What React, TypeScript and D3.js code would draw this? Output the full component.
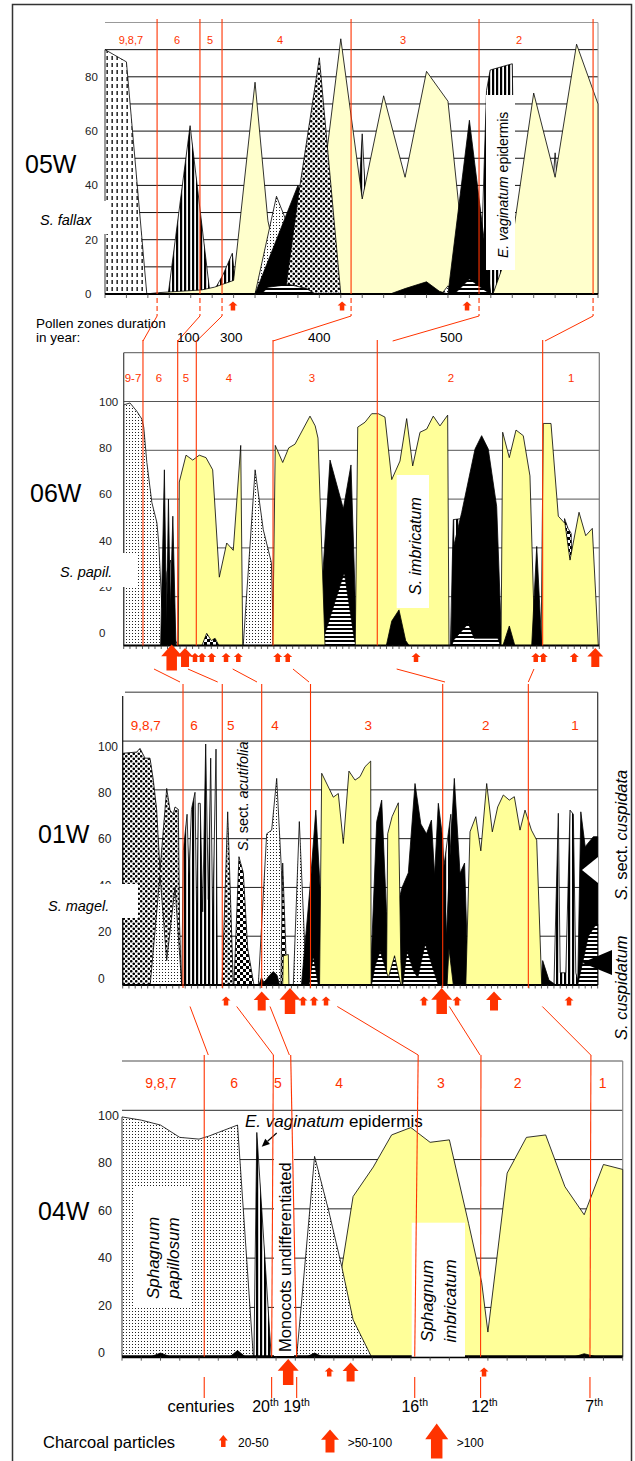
import React from "react";
import * as d3 from "d3";

type Pt = [number, number];
type Arw = [number, string];

// ================= 05W (depth index 0..23) =================
const w05Bounds = [2.43, 4.43, 5.46, 11.48, 17.45, 22.77];
const w05Zones = ["9,8,7", "6", "5", "4", "3", "2"];
const w05ZoneAt = [1.21, 3.36, 4.9, 8.17, 13.9, 19.32];
const w05Ticks = [0, 20, 40, 60, 80];
const w05Charcoal: Arw[] = [[5.97, "S"], [11.06, "S"], [16.89, "S"]];
const w05Fallax: Pt[] = [[0, 90], [1, 85.5], [1.95, 0]];
const w05VStripe: Pt[] = [[2.95, 0], [3.97, 62], [4.9, 0], [5.0, 0], [5.5, 7], [5.94, 15], [6.08, 3], [6.3, 0], [11.6, 0], [12, 59], [12.4, 0], [17.5, 0], [17.8, 75], [17.97, 82.5], [19.0, 84.8], [19.15, 5], [19.4, 0], [20.5, 0], [21, 52], [21.5, 0]];
const w05Yellow: Pt[] = [[1.9, 0], [2.5, 0.5], [3.5, 1], [4.5, 1.5], [5.1, 2.5], [6.0, 5], [7.0, 78], [7.6, 27], [8.2, 5], [8.6, 0], [9.6, 0], [10, 30], [11, 94], [12, 35], [13, 73], [14, 43], [15, 82], [16, 71], [16.8, 10], [17.2, 0], [18.1, 0], [19, 20], [20, 74], [21, 43], [22, 92], [23, 70]];
const w05Light: Pt[] = [[7, 0], [8, 36], [8.6, 24], [9.2, 15], [9.6, 0], [15.7, 0], [16, 3], [16.3, 0]];
const w05Black: Pt[] = [[7, 0], [8, 20], [9, 40], [9.6, 28], [10, 10], [10.6, 0], [13.3, 0], [14, 2], [15, 4.5], [15.6, 1], [16, 0], [17, 64], [18, 0]];
const w05Coarse: Pt[] = [[8.4, 0], [9, 35], [10, 87], [11, 0]];
const w05HStripe: Pt[] = [[7.3, 0], [7.6, 2.5], [8.6, 3.5], [9.4, 2], [9.8, 0], [16.3, 0], [17, 5.5], [17.7, 1.5], [18, 0]];

// connectors 05W -> 06W  [depth in 05W, depth in 06W]
const link0506: Pt[] = [[2.43, 3.08], [4.43, 8.63], [5.46, 11.66], [11.48, 23.86], [17.45, 41.75], [22.77, 67.32]];
const durations = ["100", "300", "400", "500"];

// ================= 06W (depth 0..76) =================
const w06Bounds = [3.08, 8.63, 11.6, 23.86, 40.52, 66.95];
const w06Zones = ["9-7", "6", "5", "4", "3", "2", "1"];
const w06ZoneAt = [1.49, 5.64, 9.96, 16.83, 30.09, 52.3, 71.5];
const w06Ticks = [0, 20, 40, 60, 80, 100];
const w06Charcoal: Arw[] = [[7.67, "L"], [9.8, "M"], [11.39, "S"], [12.51, "S"], [14.06, "S"], [16.35, "S"], [18.31, "S"], [24.61, "S"], [26.21, "S"], [46.71, "S"], [65.84, "S"], [67.05, "S"], [72.0, "S"], [75.36, "M"]];
const w06Papil: Pt[] = [[0, 98.6], [1, 99.4], [2.1, 96], [2.9, 92.8], [3.2, 89.5], [3.7, 75], [4.5, 58.6], [5.3, 50.4], [5.6, 42], [6.1, 16], [6.9, 9], [7.9, 3.6], [8.7, 0], [19.1, 0], [21, 72], [22.3, 47.5], [23.6, 34], [23.9, 5], [24.2, 0]];
const w06VStripe: Pt[] = [[6.5, 0], [6.9, 30], [7.5, 35], [8.1, 0], [52.2, 0], [52.67, 51.6], [54.0, 52], [54.6, 0]];
const w06BlackA: Pt[] = [[5.9, 0], [6.5, 72], [6.85, 8], [7.15, 60], [7.45, 15], [7.85, 53], [8.35, 0], [31.1, 0], [32.97, 76], [35.1, 56], [36.32, 74], [37.23, 0], [52.3, 0], [52.67, 40], [54.01, 54.5], [56.14, 80.5], [57.2, 86], [58.26, 80.5], [59.6, 57], [60.4, 0]];
const w06HStripe: Pt[] = [[31.4, 0], [31.8, 2], [35.25, 30], [36.9, 2], [37.2, 0], [52.4, 0], [52.8, 2.5], [55.07, 9], [56, 3], [59.8, 3], [60.2, 0]];
const w06Checker: Pt[] = [[70.1, 0], [70.45, 52], [71.0, 48], [71.5, 46], [71.9, 0]];
const w06Yellow: Pt[] = [[8.72, 0], [8.88, 67], [9.96, 78], [11.03, 76], [12.08, 78], [13.15, 77], [14.22, 72], [15.28, 28], [16.46, 42], [17.51, 39], [18.7, 82], [19.02, 0], [23.81, 0], [24.22, 82], [25.41, 75], [26.37, 81], [27.37, 82.5], [29.77, 94], [30.6, 90], [31.05, 85], [32.17, 0], [37.0, 0], [37.4, 89.5], [38.56, 91.5], [39.63, 95], [40.68, 95], [41.75, 93.6], [42.83, 68], [44.15, 75.6], [45.22, 93], [46.18, 73.6], [47.35, 87.4], [48.42, 88.7], [49.47, 94], [50.54, 90], [51.77, 94.4], [51.98, 0], [60.3, 0], [60.56, 87.4], [61.62, 77], [62.69, 88.3], [63.85, 86], [64.92, 69.5], [65.7, 0], [66.7, 0], [67.05, 91], [68.28, 91], [69.45, 53], [70.52, 50], [71.32, 35], [72.76, 54.6], [73.83, 45], [74.88, 48], [75.84, 0]];
const w06BlackB: Pt[] = [[41.97, 0], [42.83, 10], [43.99, 14.6], [45.06, 2], [45.6, 0], [60.6, 0], [61.62, 8], [62.5, 0], [65.2, 0], [66, 40.6], [66.8, 0]];
const w06CheckerSmall: Pt[] = [[12.5, 0], [13.26, 5], [14, 2], [14.6, 3], [15.2, 0]];

const link0601: Pt[] = [[4.84, 9.17], [10.27, 15.2], [17.42, 21.49], [27.05, 29.81], [43.62, 51.57], [65.56, 64.9]];

// ================= 01W (depth 0..76) =================
const w01Bounds = [9.65, 15.93, 22.24, 30.05, 51.2, 64.9];
const w01Zones = ["9,8,7", "6", "5", "4", "3", "2", "1"];
const w01ZoneAt = [3.7, 11.41, 17.28, 24.37, 39.3, 58.08, 72.37];
const w01Ticks = [0, 20, 40, 60, 80, 100];
const w01Charcoal: Arw[] = [[16.53, "S"], [22.24, "M"], [26.77, "L"], [28.85, "S"], [30.61, "S"], [32.53, "S"], [48.21, "S"], [51.04, "L"], [53.49, "S"], [59.41, "M"], [71.41, "S"]];
const w01Magel: Pt[] = [[0, 95], [2.24, 95.5], [2.77, 97], [3.57, 93], [4.37, 93], [4.9, 84], [5.44, 71.7], [5.97, 47], [7.04, 80.6], [7.57, 71.7], [8.1, 70], [8.37, 73], [8.9, 72], [9.1, 25], [9.4, 0], [15.9, 0], [16.8, 71], [17.7, 0]];
const w01Light: Pt[] = [[4.4, 0], [5.97, 45], [7.04, 10], [8.37, 40], [9.44, 0], [11.4, 0], [12.1, 12], [12.7, 0], [13.9, 0], [14.5, 10], [15.0, 0], [21.7, 0], [23.04, 62], [23.84, 63.5], [24.64, 84.7], [25.4, 47], [25.8, 0], [27.3, 0], [28.26, 67], [29.4, 0]];
const w01VStripe: Pt[] = [[9.45, 0], [9.7, 55], [10.3, 70], [10.6, 45], [11.0, 72], [11.57, 79], [11.85, 25], [12.1, 74.5], [12.4, 74.5], [12.8, 30], [13.28, 98.8], [13.7, 35], [14.08, 93], [14.4, 25], [14.93, 96.7], [15.15, 0], [50.4, 0], [51.2, 45], [52.5, 70], [53.5, 0], [69.0, 0], [69.7, 70.4], [70.0, 5], [70.9, 5], [71.57, 71.7], [72.1, 70], [72.5, 5], [73.0, 0]];
const w01Checker: Pt[] = [[17.8, 0], [18.6, 52.6], [19.3, 46], [20.0, 15], [21.0, 0], [25.3, 0], [25.6, 50], [26.3, 0]];
const w01Black: Pt[] = [[21.8, 0], [22.2, 3], [22.6, 1], [23.5, 4], [24.1, 5.5], [24.7, 4], [25.1, 0], [28.6, 0], [29.97, 40], [30.9, 71.7], [31.8, 30], [32.2, 0], [39.6, 0], [40.64, 67], [41.44, 75.8], [42.2, 30], [42.5, 10], [43.5, 20], [44.2, 35], [44.7, 40], [45.7, 46], [46.77, 82.6], [47.7, 66], [48.6, 62], [49.4, 67.6], [49.9, 45], [50.5, 74.5], [51.2, 60], [51.8, 20], [52.3, 50], [53.06, 84.7], [53.97, 45.8], [54.7, 50], [55.3, 0], [66.9, 0], [67.2, 10], [68.2, 2], [69.3, 0], [72.8, 0], [73.3, 71], [74, 56.7], [75.3, 60.8], [76, 60.8]];
const w01Yellow: Pt[] = [[25.6, 0], [25.7, 12], [26.5, 12.5], [26.6, 0], [31.5, 0], [31.84, 86.8], [33.7, 77], [34.5, 78.5], [35.3, 58], [36.2, 87.7], [37.17, 84], [37.97, 85.4], [38.77, 89.5], [39.68, 91.8], [39.75, 0], [42.2, 0], [42.4, 62], [43.1, 69], [44.1, 74.7], [44.5, 10], [44.7, 0], [51.9, 0], [52.2, 15], [52.9, 0], [54.9, 0], [55.57, 62.8], [56.5, 69], [57.3, 55], [58.24, 82.6], [59.14, 62.8], [60, 73], [60.9, 77.9], [61.86, 75.8], [62.66, 77.2], [63.57, 63.5], [64.37, 71.7], [65.4, 63.5], [66.24, 59.4], [67.04, 0]];
const w01HStripe: Pt[] = [[29.8, 0], [30.5, 12], [31.3, 0], [39.8, 0], [40.4, 8], [41.2, 14], [42.5, 3], [43.5, 12], [44.5, 0], [44.8, 0], [45.5, 14], [46.5, 6], [47.2, 3], [48.4, 17], [49.5, 8], [50.5, 0], [72.8, 0], [74.5, 20], [75.5, 24], [76, 25]];

const link0104: Pt[] = [[10.77, 4.48], [18.24, 7.86], [23.57, 8.69], [34.34, 15.38], [52.26, 18.59], [67.14, 24.34]];

// ================= 04W (depth 0..26) =================
const w04BoundsTop = [4.27, 7.86, 8.76, 15.38, 18.64, 24.35];
const w04BoundsBot = [4.27, 7.77, 9.07, 15.2, 18.62, 24.3];
const w04Zones = ["9,8,7", "6", "5", "4", "3", "2", "1"];
const w04ZoneAt = [2.02, 5.82, 8.1, 11.27, 16.56, 20.55, 24.96];
const w04Ticks = [0, 20, 40, 60, 80, 100];
const w04Charcoal: Arw[] = [[8.63, "L"], [10.76, "S"], [11.87, "M"], [18.8, "S"]];
const w04Centuries = ["20", "19", "16", "12", "7"];
const w04CenturyAt = [7.45, 9.06, 15.2, 18.82, 24.52];
const w04Yellow: Pt[] = [[10.3, 0], [11.41, 36], [12, 65], [13.05, 77], [14, 90], [15, 93], [16, 87], [17, 88], [18, 54], [18.68, 30], [19, 10], [20, 74.5], [21, 89], [22, 90], [23, 69], [24, 57.6], [25, 78], [26, 76]];
const w04Papil: Pt[] = [[0, 97.3], [1, 96], [2, 94], [3, 89], [4, 88.3], [4.5, 89.5], [5, 91], [6, 94], [6.82, 0], [9.07, 0], [10, 81.3], [10.72, 59.6], [11.41, 36.6], [12, 15], [12.95, 0]];
const w04Vag: Pt[] = [[6.85, 0], [7.0, 91], [7.75, 0]];
const w04Black: Pt[] = [[1.5, 0], [2, 1.5], [2.5, 0], [5.6, 0], [6, 2.5], [6.4, 0], [9.6, 0], [10, 1.5], [10.4, 0], [23.5, 0], [24, 1.2], [24.6, 0]];

const legendSizes = ["S", "M", "L"];
const legendText = ["20-50", ">50-100", ">100"];

// ============================================================
const FONT = "'Liberation Sans', Arial, Helvetica, sans-serif";
const RED = "#ff3300";
const Y1 = "#FFFFCC";
const Y2 = "#FFFF99";

type Geo = { left: number; right: number; top: number; base: number; vmax: number; dmax: number };

function mk(g: Geo) {
  const x = d3.scaleLinear().domain([0, g.dmax]).range([g.left, g.right]);
  const y = d3.scaleLinear().domain([0, g.vmax]).range([g.base, g.top]);
  const area = d3.area<Pt>().x((d) => x(d[0])).y0(y(0)).y1((d) => y(d[1])).curve(d3.curveLinear);
  return { x, y, area };
}

function arrowPath(cx: number, cy: number, w: number, h: number) {
  const top = cy - h / 2, bot = cy + h / 2, hh = h * 0.45, sw = w * 0.5;
  return `M${cx},${top}L${cx + w / 2},${top + hh}L${cx + sw / 2},${top + hh}L${cx + sw / 2},${bot}L${cx - sw / 2},${bot}L${cx - sw / 2},${top + hh}L${cx - w / 2},${top + hh}Z`;
}
const PANEL_ARW: Record<string, [number, number]> = { S: [9, 9], M: [16, 19], L: [21, 26] };
const LEG_ARW: Record<string, [number, number]> = { S: [9, 12], M: [18, 23], L: [23, 35] };

function Series({ s, data, fill }: { s: any; data: Pt[]; fill: string }) {
  return <path d={s.area(data) || ""} fill={fill} stroke="#000" strokeWidth={0.8} strokeLinejoin="round" />;
}

function Ticks({ s, g, n, len, w }: { s: any; g: Geo; n: number; len: number; w: number }) {
  return (
    <g>
      <line x1={g.left} x2={g.right} y1={g.base} y2={g.base} stroke="#000" strokeWidth={w} />
      {d3.range(0, n + 1).map((i) => (
        <line key={i} x1={s.x(i)} x2={s.x(i)} y1={g.base} y2={g.base + len} stroke="#333" strokeWidth={0.8} />
      ))}
    </g>
  );
}

export default function App() {
  const g1: Geo = { left: 105, right: 598, top: 22.5, base: 294, vmax: 100, dmax: 23 };
  const g2: Geo = { left: 123.7, right: 599.3, top: 352.7, base: 645.5, vmax: 120, dmax: 76 };
  const g3: Geo = { left: 122.7, right: 597.7, top: 692.3, base: 985, vmax: 120, dmax: 76 };
  const g4: Geo = { left: 122, right: 622.7, top: 1061, base: 1356.7, vmax: 120, dmax: 26 };
  const s1 = mk(g1), s2 = mk(g2), s3 = mk(g3), s4 = mk(g4);

  const lbl2 = d3.scaleLinear().domain([0, 100]).range([633, 402]);
  const lbl3 = d3.scaleLinear().domain([0, 100]).range([978, 746]);
  const lbl4 = d3.scaleLinear().domain([0, 100]).range([1352.7, 1115]);

  const txt = { fontFamily: FONT } as React.CSSProperties;

  // E. vaginatum pointer (04W)
  const pa = [276.7, 1133], pb = [261.7, 1146.7];
  const dl = Math.hypot(pb[0] - pa[0], pb[1] - pa[1]);
  const ux = (pb[0] - pa[0]) / dl, uy = (pb[1] - pa[1]) / dl;
  const hb = [pb[0] - ux * 8, pb[1] - uy * 8];
  const head = `M${pb[0]},${pb[1]}L${hb[0] - uy * 3.5},${hb[1] + ux * 3.5}L${hb[0] + uy * 3.5},${hb[1] - ux * 3.5}Z`;

  const arrows = (list: Arw[], s: any, cy: number) =>
    list.map(([d, k], i) => {
      const [w, h] = PANEL_ARW[k];
      return <path key={i} d={arrowPath(s.x(d), cy, w, h)} fill={RED} />;
    });

  return (
    <svg width={635} height={1461} style={{ position: "absolute", left: 0, top: 0, background: "#fff" }} xmlns="http://www.w3.org/2000/svg">
      <defs>
        <pattern id="p-fallax" width={5} height={7} patternUnits="userSpaceOnUse">
          <rect width={5} height={7} fill="#fff" />
          <rect x={1.5} y={0} width={1.3} height={4} fill="#000" />
        </pattern>
        <pattern id="p-vs" width={4} height={4} patternUnits="userSpaceOnUse">
          <rect width={4} height={4} fill="#fff" />
          <rect x={0} y={0} width={2.2} height={4} fill="#000" />
        </pattern>
        <pattern id="p-hs" width={4} height={4} patternUnits="userSpaceOnUse">
          <rect width={4} height={4} fill="#fff" />
          <rect x={0} y={0} width={4} height={2} fill="#000" />
        </pattern>
        <pattern id="p-light" width={3} height={3} patternUnits="userSpaceOnUse">
          <rect width={3} height={3} fill="#fff" />
          <rect x={0} y={0} width={1} height={1} fill="#222" />
        </pattern>
        <pattern id="p-coarse" width={5} height={5} patternUnits="userSpaceOnUse">
          <rect width={5} height={5} fill="#fff" />
          <circle cx={1.25} cy={1.25} r={1.3} fill="#000" />
          <circle cx={3.75} cy={3.75} r={1.3} fill="#000" />
        </pattern>
        <pattern id="p-check" width={6} height={6} patternUnits="userSpaceOnUse">
          <rect width={6} height={6} fill="#fff" />
          <rect x={0} y={0} width={3} height={3} fill="#000" />
          <rect x={3} y={3} width={3} height={3} fill="#000" />
        </pattern>
      </defs>
      <rect width={635} height={1461} fill="#fff" />
      <rect x={12.5} y={4.5} width={619} height={1475} fill="none" stroke="#333" strokeWidth={1.5} />

      {/* ============ 05W ============ */}
      <g>
        {d3.range(10, 100, 10).map((v) => (
          <line key={v} x1={g1.left} x2={g1.right} y1={s1.y(v)} y2={s1.y(v)} stroke="#111" strokeWidth={1} />
        ))}
        <line x1={g1.left} x2={g1.right} y1={s1.y(100)} y2={s1.y(100)} stroke="#999" strokeWidth={1} />
        <line x1={g1.right} x2={g1.right} y1={s1.y(100)} y2={g1.base} stroke="#999" strokeWidth={1} />
        <Series s={s1} data={w05Fallax} fill="url(#p-fallax)" />
        <Series s={s1} data={w05VStripe} fill="url(#p-vs)" />
        <Series s={s1} data={w05Yellow} fill={Y1} />
        <Series s={s1} data={w05Light} fill="url(#p-light)" />
        <Series s={s1} data={w05Black} fill="#000" />
        <Series s={s1} data={w05Coarse} fill="url(#p-coarse)" />
        <Series s={s1} data={w05HStripe} fill="url(#p-hs)" />
        <Ticks s={s1} g={g1} n={23} len={4} w={2} />
        {w05Ticks.map((v) => (
          <text key={v} x={85} y={s1.y(v) + 4} fontSize={11.5} fill="#222" style={txt}>{v}</text>
        ))}
        {w05Zones.map((z, i) => (
          <text key={z} x={s1.x(w05ZoneAt[i])} y={44} fontSize={11} fill={RED} textAnchor="middle" style={txt}>{z}</text>
        ))}
        <text x={25} y={173} fontSize={25} fill="#000" style={txt}>05W</text>
        <rect x={38} y={201} width={73} height={33} fill="#fff" />
        <text x={40} y={225} fontSize={14.5} fontStyle="italic" style={txt}>S. fallax</text>
        <rect x={486} y={95} width={29} height={175} fill="#fff" />
        <text transform="translate(508,258) rotate(-90)" fontSize={14} style={txt}>
          <tspan fontStyle="italic">E. vaginatum</tspan> epidermis
        </text>
        {w05Bounds.map((d, i) => (
          <g key={i}>
            <line x1={s1.x(d)} x2={s1.x(d)} y1={19} y2={g1.base} stroke={RED} strokeWidth={1.1} />
            <line x1={s1.x(d)} x2={s1.x(d)} y1={298} y2={316} stroke={RED} strokeWidth={1.1} strokeDasharray="5,3" />
          </g>
        ))}
        {arrows(w05Charcoal, s1, 306)}
      </g>

      {/* connectors 05W -> 06W */}
      {link0506.map(([a, b], i) => (
        <line key={i} x1={s1.x(a)} y1={316} x2={s2.x(b) + (i === 4 ? 7.7 : 0)} y2={341} stroke={RED} strokeWidth={1} />
      ))}
      <text x={36} y={328} fontSize={13.5} style={txt}>Pollen zones duration</text>
      <text x={36} y={342} fontSize={13.5} style={txt}>in year:</text>
      {durations.map((t, i) => (
        <text key={t} x={[177, 220, 308, 440][i]} y={342} fontSize={13.5} style={txt}>{t}</text>
      ))}

      {/* ============ 06W ============ */}
      <g>
        {[20, 40, 60, 80, 100].map((v) => (
          <line key={v} x1={g2.left} x2={g2.right} y1={s2.y(v)} y2={s2.y(v)} stroke="#555" strokeWidth={1} />
        ))}
        <line x1={g2.left} x2={g2.right} y1={g2.top} y2={g2.top} stroke="#777" strokeWidth={1.2} />
        <line x1={g2.right} x2={g2.right} y1={g2.top} y2={g2.base} stroke="#777" strokeWidth={1.2} />
        <Series s={s2} data={w06Papil} fill="url(#p-light)" />
        <Series s={s2} data={w06VStripe} fill="url(#p-vs)" />
        <Series s={s2} data={w06BlackA} fill="#000" />
        <Series s={s2} data={w06HStripe} fill="url(#p-hs)" />
        <Series s={s2} data={w06Checker} fill="url(#p-check)" />
        <Series s={s2} data={w06Yellow} fill={Y2} />
        <Series s={s2} data={w06BlackB} fill="#000" />
        <Series s={s2} data={w06CheckerSmall} fill="url(#p-check)" />
        <line x1={g2.left} x2={g2.left} y1={g2.top} y2={g2.base} stroke="#444" strokeWidth={1.2} />
        <Ticks s={s2} g={g2} n={76} len={3.5} w={2} />
        {w06Ticks.map((v) => (
          <text key={v} x={99} y={lbl2(v) + 4} fontSize={11.5} fill="#222" style={txt}>{v}</text>
        ))}
        {w06Zones.map((z, i) => (
          <text key={z} x={s2.x(w06ZoneAt[i])} y={382} fontSize={11.5} fill={RED} textAnchor="middle" style={txt}>{z}</text>
        ))}
        <text x={30} y={502} fontSize={25} style={txt}>06W</text>
        <rect x={56} y={553} width={80} height={34} fill="#fff" />
        <text x={60} y={577} fontSize={14.5} fontStyle="italic" style={txt}>S. papil.</text>
        <rect x={396.7} y={475} width={32.3} height={133} fill="#fff" />
        <text transform="translate(421,595) rotate(-90)" fontSize={16} fontStyle="italic" style={txt}>S. imbricatum</text>
        {w06Bounds.map((d, i) => (
          <line key={i} x1={s2.x(d)} x2={s2.x(d)} y1={340} y2={g2.base} stroke={RED} strokeWidth={1.1} />
        ))}
        {arrows(w06Charcoal, s2, 657.5)}
      </g>

      {link0601.map(([a, b], i) => (
        <line key={i} x1={s2.x(a)} y1={669} x2={s3.x(b)} y2={682} stroke={RED} strokeWidth={1} />
      ))}

      {/* ============ 01W ============ */}
      <g>
        {[20, 40, 60, 80, 100].map((v) => (
          <line key={v} x1={g3.left} x2={g3.right} y1={s3.y(v)} y2={s3.y(v)} stroke="#222" strokeWidth={1} />
        ))}
        <line x1={125} x2={g3.right} y1={g3.top} y2={g3.top} stroke="#777" strokeWidth={1.4} />
        <line x1={g3.right} x2={g3.right} y1={g3.top} y2={g3.base} stroke="#333" strokeWidth={1.2} />
        <Series s={s3} data={w01Magel} fill="url(#p-coarse)" />
        <Series s={s3} data={w01Light} fill="url(#p-light)" />
        <Series s={s3} data={w01VStripe} fill="url(#p-vs)" />
        <Series s={s3} data={w01Checker} fill="url(#p-check)" />
        <Series s={s3} data={w01Black} fill="#000" />
        <Series s={s3} data={w01Yellow} fill={Y2} />
        <Series s={s3} data={w01HStripe} fill="url(#p-hs)" />
        <line x1={g3.left} x2={g3.left} y1={696} y2={g3.base} stroke="#111" strokeWidth={1.2} />
        <Ticks s={s3} g={g3} n={76} len={3.5} w={2} />
        {w01Ticks.map((v) => (
          <text key={v} x={98} y={lbl3(v) + 4.5} fontSize={12} fill="#222" style={txt}>{v}</text>
        ))}
        {w01Zones.map((z, i) => (
          <text key={z} x={s3.x(w01ZoneAt[i])} y={730} fontSize={13.5} fill={RED} textAnchor="middle" style={txt}>{z}</text>
        ))}
        <text x={38} y={843} fontSize={25} style={txt}>01W</text>
        <rect x={44} y={884} width={94} height={34} fill="#fff" />
        <text x={48} y={911} fontSize={14.5} fontStyle="italic" style={txt}>S. magel.</text>
        <text transform="translate(248,851) rotate(-90)" fontSize={14.5} style={txt}>
          <tspan fontStyle="italic">S.</tspan> sect. <tspan fontStyle="italic">acutifolia</tspan>
        </text>
        <text transform="translate(627,900) rotate(-90)" fontSize={16.5} style={txt}>
          <tspan fontStyle="italic">S.</tspan> sect. <tspan fontStyle="italic">cuspidata</tspan>
        </text>
        <text transform="translate(627,1040) rotate(-90)" fontSize={16.5} fontStyle="italic" style={txt}>S. cuspidatum</text>
        <path d="M582,870L598,857L598,883Z" fill="#fff" />
        <path d="M582,962.7L612,950L612,975Z" fill="#000" />
        {w01Bounds.map((d, i) => (
          <line key={i} x1={s3.x(d)} x2={s3.x(d)} y1={684} y2={988} stroke={RED} strokeWidth={1.1} />
        ))}
        {arrows(w01Charcoal, s3, 1001)}
      </g>

      {link0104.map(([a, b], i) => (
        <line key={i} x1={s3.x(a)} y1={1006.5} x2={s4.x(b)} y2={1055} stroke={RED} strokeWidth={1} />
      ))}

      {/* ============ 04W ============ */}
      <g>
        {[20, 40, 60, 80].map((v) => (
          <line key={v} x1={g4.left} x2={g4.right} y1={s4.y(v)} y2={s4.y(v)} stroke="#222" strokeWidth={1} />
        ))}
        <line x1={g4.left} x2={g4.right} y1={s4.y(100)} y2={s4.y(100)} stroke="#555" strokeWidth={1.2} />
        <line x1={g4.left} x2={g4.right} y1={g4.top} y2={g4.top} stroke="#888" strokeWidth={1.4} />
        <line x1={g4.right} x2={g4.right} y1={g4.top} y2={g4.base} stroke="#888" strokeWidth={1.2} />
        <Series s={s4} data={w04Yellow} fill={Y2} />
        <Series s={s4} data={w04Papil} fill="url(#p-light)" />
        <Series s={s4} data={w04Vag} fill="url(#p-vs)" />
        <Series s={s4} data={w04Black} fill="#000" />
        <Ticks s={s4} g={g4} n={26} len={4} w={3} />
        {w04Ticks.map((v) => (
          <text key={v} x={98} y={lbl4(v) + 4.5} fontSize={12.5} fill="#222" style={txt}>{v}</text>
        ))}
        {w04Zones.map((z, i) => (
          <text key={z} x={s4.x(w04ZoneAt[i])} y={1088} fontSize={14} fill={RED} textAnchor="middle" style={txt}>{z}</text>
        ))}
        <text x={38} y={1220} fontSize={25} style={txt}>04W</text>
        <rect x={135} y={1188} width={55} height={120} fill="#fff" />
        <text transform="translate(159,1258) rotate(-90)" fontSize={17} fontStyle="italic" textAnchor="middle" style={txt}>Sphagnum</text>
        <text transform="translate(179,1258) rotate(-90)" fontSize={17} fontStyle="italic" textAnchor="middle" style={txt}>papillosum</text>
        <rect x={411.7} y={1222.7} width={53.3} height={134} fill="#fff" />
        <text transform="translate(433,1301) rotate(-90)" fontSize={17} fontStyle="italic" textAnchor="middle" style={txt}>Sphagnum</text>
        <text transform="translate(456,1301) rotate(-90)" fontSize={17} fontStyle="italic" textAnchor="middle" style={txt}>imbricatum</text>
        <rect x={274} y={1150} width={20} height={206} fill="#fff" />
        <text transform="translate(291,1352) rotate(-90)" fontSize={16.5} style={txt}>Monocots undifferentiated</text>
        <text x={245} y={1127} fontSize={17} style={txt}>
          <tspan fontStyle="italic">E. vaginatum</tspan> epidermis
        </text>
        <line x1={pa[0]} y1={pa[1]} x2={hb[0]} y2={hb[1]} stroke="#000" strokeWidth={1.2} />
        <path d={head} fill="#000" />
        {w04BoundsTop.map((d, i) => (
          <g key={i}>
            <line x1={s4.x(d)} x2={s4.x(w04BoundsBot[i])} y1={1055} y2={g4.base} stroke={RED} strokeWidth={1.1} />
            <line x1={s4.x(w04BoundsBot[i])} x2={s4.x(w04BoundsBot[i])} y1={1377} y2={1398} stroke={RED} strokeWidth={1.1} />
          </g>
        ))}
        {arrows(w04Charcoal, s4, 1372)}
        <text x={201} y={1412} fontSize={16.5} textAnchor="middle" style={txt}>centuries</text>
        {w04Centuries.map((c, i) => (
          <text key={c} x={s4.x(w04CenturyAt[i])} y={1412} fontSize={16} textAnchor="middle" style={txt}>
            {c}
            <tspan fontSize={10.5} dy={-6}>th</tspan>
          </text>
        ))}
      </g>

      {/* legend */}
      <text x={43} y={1448} fontSize={16.5} style={txt}>Charcoal particles</text>
      {legendSizes.map((k, i) => {
        const [w, h] = LEG_ARW[k];
        const cx = [223.3, 330, 436.7][i];
        return (
          <g key={k}>
            <path d={arrowPath(cx, 1441, w, h)} fill={RED} />
            <text x={[238, 347.7, 456.7][i]} y={1447} fontSize={12} style={txt}>{legendText[i]}</text>
          </g>
        );
      })}
    </svg>
  );
}
